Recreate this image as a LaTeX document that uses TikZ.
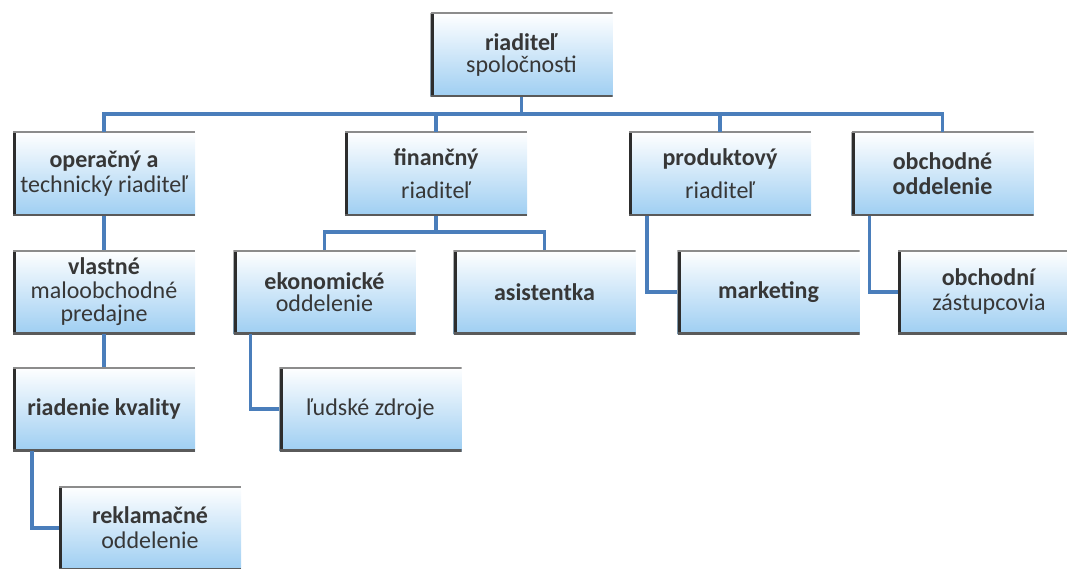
\documentclass[tikz,border=0pt]{standalone}
\usepackage{fontspec}
\setmainfont{Carlito}
\usepackage{tikz}

\definecolor{boxblue}{RGB}{158,206,242}
\definecolor{linkblue}{RGB}{74,126,187}
\definecolor{txtgray}{RGB}{55,55,55}
\definecolor{edgedark}{RGB}{45,45,45}
\definecolor{edgegray}{RGB}{140,140,140}
\definecolor{edgemid}{RGB}{90,90,90}

\tikzset{
  box/.style={rectangle, minimum width=182pt, minimum height=84pt, inner sep=0pt,
    align=center, text=txtgray, font=\fontsize{24}{25}\selectfont,
    top color=white, middle color=boxblue!20, bottom color=boxblue,
    path picture={
      \draw[edgedark, line width=6pt] (path picture bounding box.south west) -- (path picture bounding box.north west);
      \draw[edgegray, line width=3pt] (path picture bounding box.north west) -- (path picture bounding box.north east);
      \draw[edgemid, line width=4pt] (path picture bounding box.south west) -- (path picture bounding box.south east);
    }},
  tight lines/.style={font=\fontsize{24}{22}\selectfont},
  loose lines/.style={font=\fontsize{24}{33}\selectfont},
  link/.style={draw=linkblue, line width=3.5pt}
}

\begin{document}
\begin{tikzpicture}[x=1pt, y=-1pt]
    \useasboundingbox (0,0) rectangle (1067,569);
    % top
    \node[box, tight lines] (ceo) at (521.5,55) {\textbf{riaditeľ}\\spoločnosti};
    % first level
    \node[box] (opr) at (104,174) {\textbf{operačný a}\\technický riaditeľ};
    \node[box, loose lines] (fin) at (436,174) {\textbf{finančný}\\riaditeľ};
    \node[box, loose lines] (prod) at (720,174) {\textbf{produktový}\\riaditeľ};
    \node[box] (obch) at (942.5,174) {\textbf{obchodné}\\\textbf{oddelenie}};
    % second level
    \node[box, font=\fontsize{24}{23.5}\selectfont] (pred) at (104,292) {\textbf{vlastné}\\maloobchodné\\predajne};
    \node[box, tight lines] (ekon) at (324.5,292) {\textbf{ekonomické}\\oddelenie};
    \node[box] (asist) at (544.5,292) {\textbf{asistentka}};
    \node[box] (mark) at (768.5,292) {\textbf{marketing}};
    \node[box] (zast) at (989,292) {\textbf{obchodní}\\zástupcovia};
    % third and fourth level
    \node[box] (kval) at (104,409) {\textbf{riadenie kvality}};
    \node[box] (zdroje) at (370.5,409) {ľudské zdroje};
    \node[box] (rekl) at (150,528) {\textbf{reklamačné}\\oddelenie};

    \coordinate (bus) at (521.5,114);
    \coordinate (finbus) at (436,232);
    \draw[link] (ceo.south) -- (bus);
    \draw[link] (opr.north) |- (bus) -| (obch.north);
    \draw[link] (fin.north) -- (fin.north |- bus);
    \draw[link] (prod.north) -- (prod.north |- bus);
    \draw[link] (fin.south) -- (finbus);
    \draw[link] (ekon.north) |- (finbus) -| (asist.north);
    \draw[link] (opr) -- (pred);
    \draw[link] (pred) -- (kval);
    \draw[link] ([xshift=19pt]kval.south west) |- (rekl.west);
    \draw[link] ([xshift=17pt]ekon.south west) |- (zdroje.west);
    \draw[link] ([xshift=18pt]prod.south west) |- (mark.west);
    \draw[link] ([xshift=18pt]obch.south west) |- (zast.west);
\end{tikzpicture}
\end{document}
